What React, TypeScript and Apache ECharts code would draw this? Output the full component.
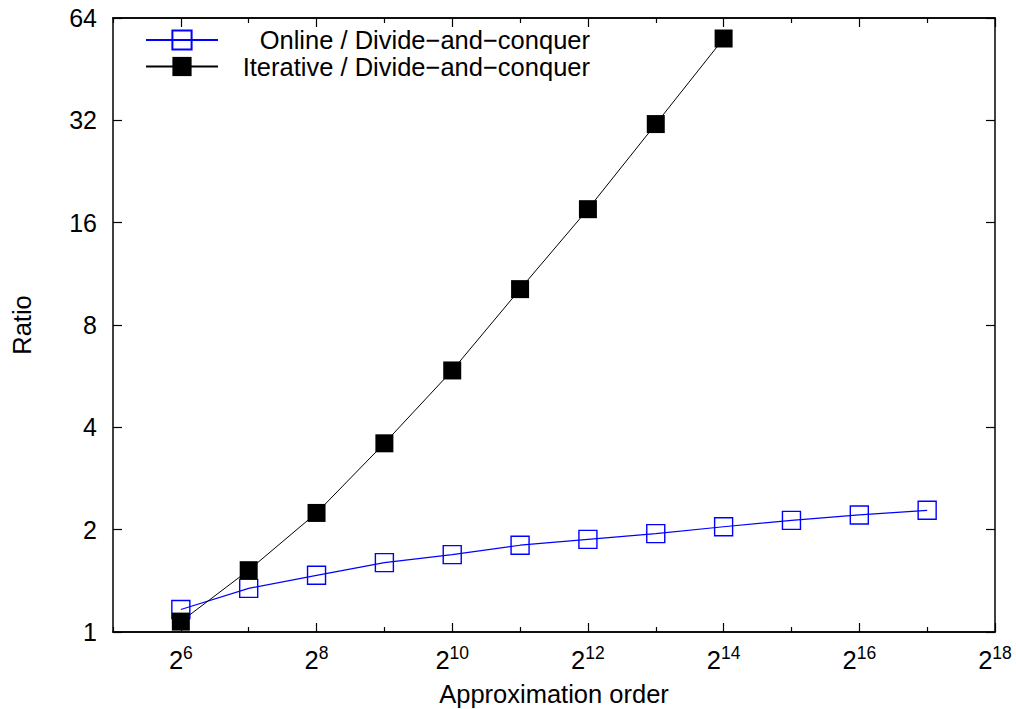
import React, { useEffect, useRef } from "react";
import * as echarts from "echarts";

const FONT = "'Liberation Sans', Arial, Helvetica, sans-serif";

// log2 of the approximation order
const onlineExponents = [6, 7, 8, 9, 10, 11, 12, 13, 14, 15, 16, 17];
const onlineRatio = [1.165, 1.344, 1.468, 1.6, 1.689, 1.8, 1.873, 1.947, 2.04, 2.13, 2.21, 2.28];
const iterativeExponents = [6, 7, 8, 9, 10, 11, 12, 13, 14];
const iterativeRatio = [1.073, 1.52, 2.24, 3.59, 5.88, 10.2, 17.53, 31.2, 55.7];

const xMajorTicks = [6, 8, 10, 12, 14, 16, 18];
const xMinorTicks = [5, 7, 9, 11, 13, 15, 17];

const ONLINE_NAME = "Online / Divide\u2212and\u2212conquer";
const ITER_NAME = "Iterative / Divide\u2212and\u2212conquer";

export default function App() {
  const ref = useRef<HTMLDivElement>(null);
  useEffect(() => {
    const chart = echarts.init(ref.current!, null, { renderer: "svg" });
    const axisLine = { show: true, onZero: false, lineStyle: { color: "#000", width: 1.5 } };
    const tickLine = { color: "#000", width: 1.2 };
    const xBase = {
      type: "value",
      min: 5,
      max: 18,
      splitLine: { show: false },
      axisLine,
    };
    chart.setOption({
      animation: false,
      backgroundColor: "#fff",
      grid: { left: 113, right: 21, top: 18, bottom: 77, containLabel: false, outerBoundsMode: "none" },
      xAxis: [
        {
          ...xBase,
          position: "bottom",
          name: "Approximation order",
          nameLocation: "middle",
          nameGap: 49,
          nameTextStyle: { fontFamily: FONT, fontSize: 25.5, color: "#000" },
          axisTick: { show: true, inside: true, length: 9, customValues: xMajorTicks, lineStyle: tickLine },
          axisLabel: {
            show: true,
            customValues: xMajorTicks,
            margin: 12,
            formatter: (v: number) => `{b|2}{s|${v}}`,
            rich: {
              b: { fontFamily: FONT, fontSize: 25.5, color: "#000", lineHeight: 29, verticalAlign: "bottom" },
              s: { fontFamily: FONT, fontSize: 17.5, color: "#000", lineHeight: 18, verticalAlign: "top" },
            },
          },
        },
        {
          ...xBase,
          position: "bottom",
          axisTick: { show: true, inside: true, length: 5, customValues: xMinorTicks, lineStyle: tickLine },
          axisLabel: { show: false },
        },
        {
          ...xBase,
          position: "top",
          axisTick: { show: true, inside: true, length: 9, customValues: xMajorTicks, lineStyle: tickLine },
          axisLabel: { show: false },
        },
        {
          ...xBase,
          position: "top",
          axisTick: { show: true, inside: true, length: 5, customValues: xMinorTicks, lineStyle: tickLine },
          axisLabel: { show: false },
        },
      ],
      yAxis: [
        {
          type: "log",
          logBase: 2,
          min: 1,
          max: 64,
          interval: 1,
          position: "left",
          name: "Ratio",
          nameLocation: "middle",
          nameGap: 78,
          nameTextStyle: { fontFamily: FONT, fontSize: 25.5, color: "#000" },
          splitLine: { show: false },
          axisLine,
          axisTick: { show: true, inside: true, length: 9, lineStyle: tickLine },
          axisLabel: { fontFamily: FONT, fontSize: 25, color: "#000", margin: 16 },
        },
        {
          type: "log",
          logBase: 2,
          min: 1,
          max: 64,
          interval: 1,
          position: "right",
          splitLine: { show: false },
          axisLine,
          axisTick: { show: true, inside: true, length: 9, lineStyle: tickLine },
          axisLabel: { show: false },
        },
      ],
      legend: {
        orient: "vertical",
        left: 140,
        top: 22,
        itemWidth: 72,
        itemHeight: 24,
        itemGap: 0.5,
        data: [ONLINE_NAME, ITER_NAME],
        formatter: (n: string) => `{r|${n}}`,
        textStyle: {
          rich: {
            r: { width: 367, align: "right", fontFamily: FONT, fontSize: 25.5, color: "#000", lineHeight: 26 },
          },
        },
      },
      series: [
        {
          name: ONLINE_NAME,
          type: "line",
          xAxisIndex: 0,
          yAxisIndex: 0,
          data: onlineExponents.map((x, i) => [x, onlineRatio[i]]),
          symbol: "rect",
          symbolSize: 18,
          color: "#0000ff",
          itemStyle: { color: "rgba(255,255,255,0)", borderColor: "#0000ff", borderWidth: 1.4 },
          lineStyle: { color: "#0000ff", width: 1.2 },
          emphasis: { disabled: true },
        },
        {
          name: ITER_NAME,
          type: "line",
          xAxisIndex: 0,
          yAxisIndex: 0,
          data: iterativeExponents.map((x, i) => [x, iterativeRatio[i]]),
          symbol: "rect",
          symbolSize: 18,
          color: "#000",
          itemStyle: { color: "#000" },
          lineStyle: { color: "#000", width: 1 },
          emphasis: { disabled: true },
        },
      ],
    });
    return () => chart.dispose();
  }, []);
  return (
    <div
      ref={ref}
      style={{ position: "absolute", left: 0, top: 0, width: 1016, height: 709 }}
    />
  );
}
